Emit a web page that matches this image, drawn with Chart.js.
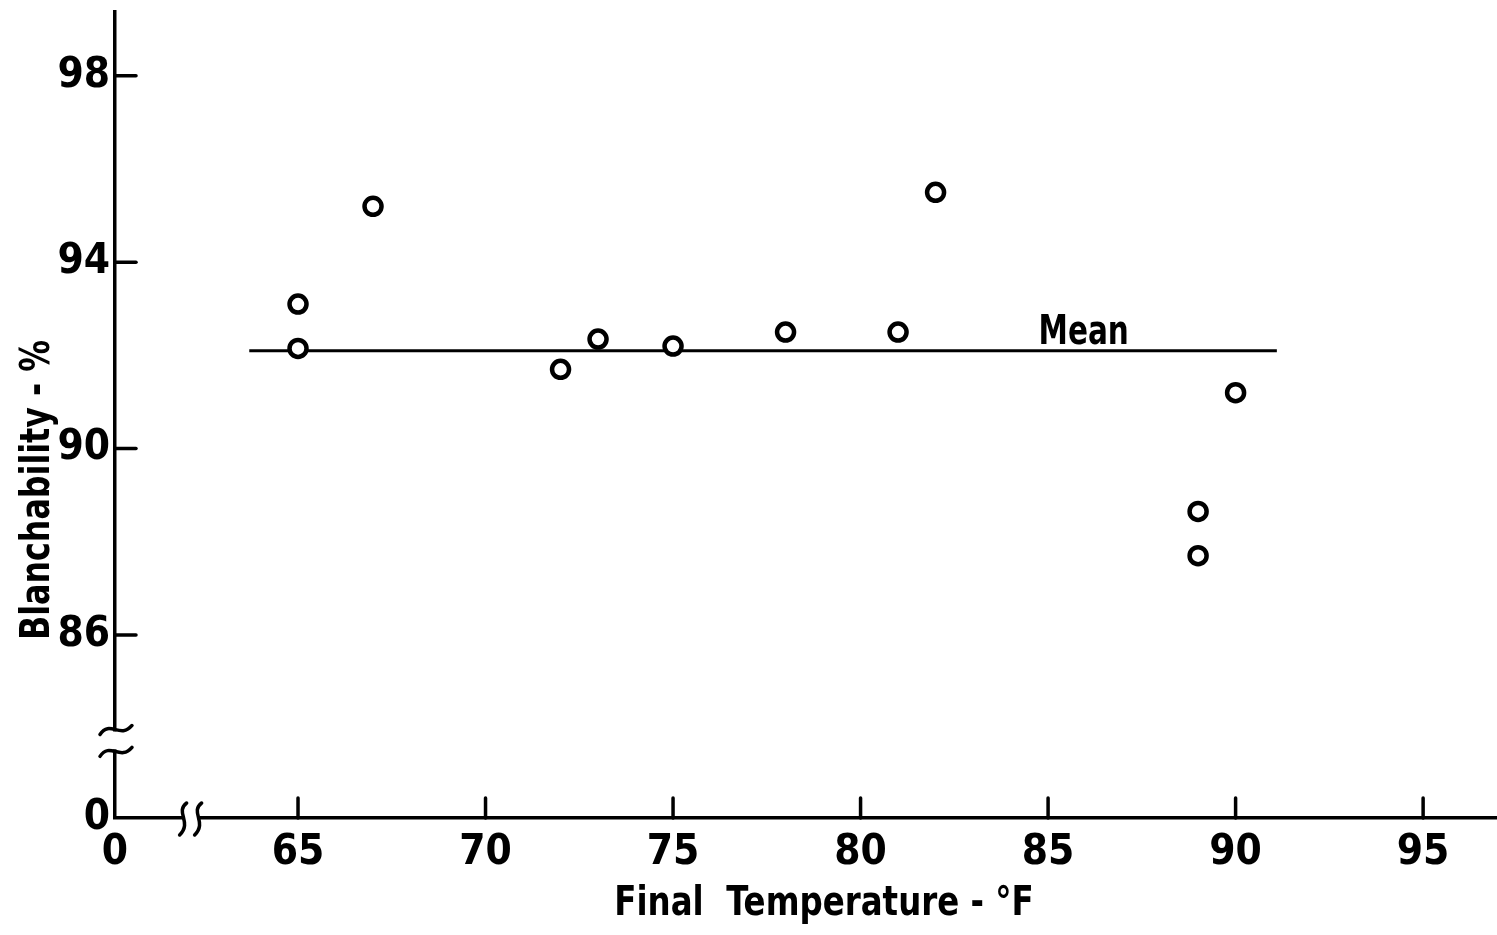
<!DOCTYPE html>
<html>
<head>
<meta charset="utf-8">
<script src="https://cdn.jsdelivr.net/npm/chart.js@4.4.1/dist/chart.umd.min.js"></script>
<style>
  html, body { margin: 0; padding: 0; background: #fff; }
  #wrap { width: 1497px; height: 935px; position: relative; }
</style>
</head>
<body>
<div id="wrap"><canvas id="blanchChart"></canvas></div>
<script>
// Datos
const tempF = [65, 65, 67, 72, 73, 75, 78, 81, 82, 89, 89, 90];
const blanchability = [93.1, 92.15, 95.2, 91.7, 92.35, 92.2, 92.5, 92.5, 95.5, 88.65, 87.7, 91.2];
const meanValue = 92.1;
const meanRange = [63.7, 91.1];
const xTicks = [65, 70, 75, 80, 85, 90, 95];
const yTicks = [86, 90, 94, 98];
// ejes con corte: el origen "0" se dibuja en el minimo de cada eje
const xMin = 60.12, xMax = 96.97;
const yMin = 82.07, yMax = 99.37;

const FONT = "'Liberation Sans Narrow', 'DejaVu Sans Condensed', 'Arial Narrow', sans-serif";

// texto condensado (el original usa una letra muy estrecha)
function narrowText(ctx, text, x, y, sx, rot) {
    ctx.save();
    ctx.translate(x, y);
    if (rot) ctx.rotate(rot);
    ctx.scale(sx, 1);
    ctx.fillText(text, 0, 0);
    ctx.restore();
}

// marcas de ticks hacia adentro, cortes de eje, titulos y etiqueta "Mean"
const decorPlugin = {
    id: 'decor',
    afterDraw(chart) {
        const ctx = chart.ctx;
        const xs = chart.scales.x, ys = chart.scales.y;
        const area = chart.chartArea;
        ctx.save();
        ctx.strokeStyle = '#000';
        ctx.fillStyle = '#000';
        ctx.lineCap = 'round';

        // ticks internos
        ctx.lineWidth = 3.5;
        xTicks.forEach(v => {
            const px = xs.getPixelForValue(v);
            ctx.beginPath(); ctx.moveTo(px, area.bottom); ctx.lineTo(px, area.bottom - 20); ctx.stroke();
        });
        yTicks.forEach(v => {
            const py = ys.getPixelForValue(v);
            ctx.beginPath(); ctx.moveTo(area.left, py); ctx.lineTo(area.left + 21, py); ctx.stroke();
        });

        // corte del eje x
        const bx1 = xs.getPixelForValue(61.95), bx2 = xs.getPixelForValue(62.35);
        ctx.fillStyle = '#fff';
        ctx.fillRect(bx1 + 1, area.bottom - 4, bx2 - bx1 - 2, 8);
        ctx.lineWidth = 3.5;
        [bx1, bx2].forEach(px => {
            ctx.beginPath();
            ctx.moveTo(px + 3, area.bottom - 15);
            ctx.bezierCurveTo(px - 9, area.bottom - 6, px + 9, area.bottom + 4, px - 4, area.bottom + 17);
            ctx.stroke();
        });

        // corte del eje y
        const by1 = ys.getPixelForValue(83.97), by2 = ys.getPixelForValue(83.5);
        ctx.fillRect(area.left - 4, by1 + 2, 8, by2 - by1 - 4);
        [by1, by2].forEach(py => {
            ctx.beginPath();
            ctx.moveTo(area.left - 15, py + 5);
            ctx.bezierCurveTo(area.left - 5, py - 10, area.left + 5, py + 10, area.left + 17, py - 4);
            ctx.stroke();
        });

        // etiqueta Mean
        ctx.fillStyle = '#000';
        ctx.font = 'bold 41px ' + FONT;
        ctx.textAlign = 'center';
        ctx.textBaseline = 'alphabetic';
        narrowText(ctx, 'Mean', xs.getPixelForValue(85.95), ys.getPixelForValue(meanValue) - 7, 0.8);

        // titulos de ejes
        ctx.font = 'bold 41px ' + FONT;
        narrowText(ctx, 'Final  Temperature - °F', 824, 915, 0.88);
        narrowText(ctx, 'Blanchability - %', 49, 490, 0.86, -Math.PI / 2);

        ctx.restore();
    }
};

document.addEventListener('DOMContentLoaded', function () {
    const canvas = document.getElementById('blanchChart');

    new Chart(canvas, {
        type: 'scatter',
        data: {
            datasets: [{
                label: 'Blanchability',
                data: tempF.map((t, i) => ({ x: t, y: blanchability[i] })),
                pointStyle: 'circle',
                pointRadius: 8.5,
                pointBorderWidth: 4.5,
                pointBackgroundColor: '#fff',
                pointBorderColor: '#000',
                order: 0
            }, {
                label: 'Mean',
                type: 'line',
                data: meanRange.map(x => ({ x: x, y: meanValue })),
                borderColor: '#000',
                borderWidth: 3,
                pointRadius: 0,
                fill: false,
                order: 1
            }]
        },
        options: {
            responsive: true,
            maintainAspectRatio: false,
            animation: false,
            layout: { autoPadding: false, padding: { top: 12, right: 0, left: 0, bottom: 0 } },
            plugins: {
                legend: { display: false },
                tooltip: { enabled: false }
            },
            scales: {
                x: {
                    type: 'linear',
                    min: xMin,
                    max: xMax,
                    afterBuildTicks: s => { s.ticks = [xMin].concat(xTicks).map(v => ({ value: v })); },
                    afterFit: s => { s.height = 117; s.paddingLeft = 0; s.paddingRight = 0; },
                    grid: { display: false, drawTicks: false },
                    border: { display: true, color: '#000', width: 3.5 },
                    ticks: {
                        color: '#000',
                        padding: 10,
                        maxRotation: 0,
                        font: { family: FONT, size: 42, weight: 'bold' },
                        callback: v => v < 64 ? '0' : v
                    }
                },
                y: {
                    type: 'linear',
                    min: yMin,
                    max: yMax,
                    afterBuildTicks: s => { s.ticks = [yMin].concat(yTicks).map(v => ({ value: v })); },
                    afterFit: s => { s.width = 115; s.paddingTop = 0; s.paddingBottom = 0; },
                    grid: { display: false, drawTicks: false },
                    border: { display: true, color: '#000', width: 3.5 },
                    ticks: {
                        color: '#000',
                        padding: 5,
                        font: { family: FONT, size: 42, weight: 'bold' },
                        callback: v => v < 84 ? '0' : v
                    }
                }
            }
        },
        plugins: [decorPlugin]
    });
});
</script>
</body>
</html>
